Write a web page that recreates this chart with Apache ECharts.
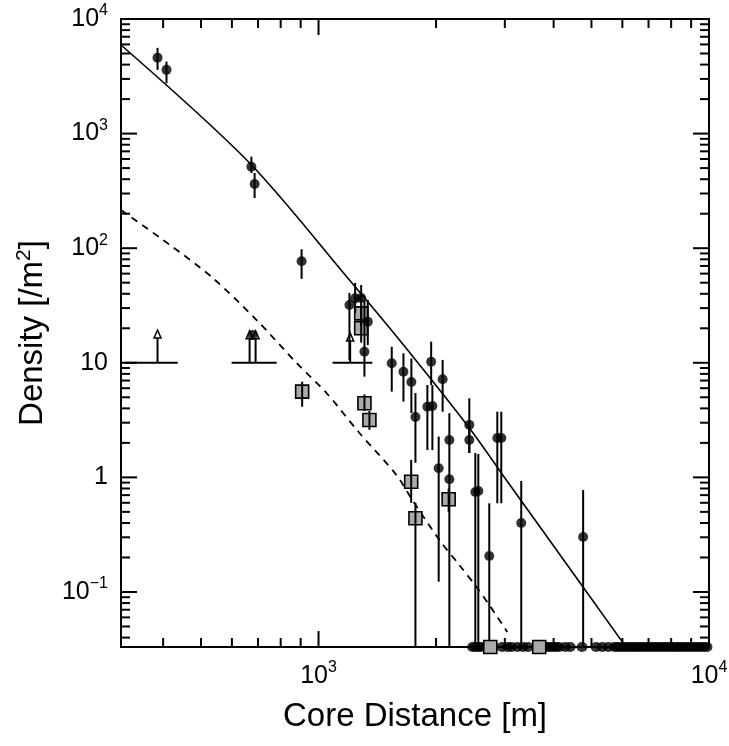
<!DOCTYPE html>
<html>
<head>
<meta charset="utf-8">
<script src="https://cdn.jsdelivr.net/npm/echarts@6/dist/echarts.min.js"></script>
<style>
  html, body { margin: 0; padding: 0; background: #fff; }
  #main { width: 729px; height: 746px; }
</style>
</head>
<body>
<div id="main"></div>
<script>
// axis ranges
const xMin = 312, xMax = 10000;
const yMin = 0.0331, yMax = 10000;

// fitted lateral distribution (solid line)
const fitX = [312, 666, 1200, 1612, 2433, 3026, 3740, 6133];
const fitY = [5930, 554, 52.8, 15.8, 2.70, 0.95, 0.348, 0.033];

// muon component (dashed line)
const muX = [312, 416, 536, 694, 879, 1048, 1273, 1583, 1739, 2040, 2294, 2536, 2737, 3044];
const muY = [215, 107, 55, 23.6, 9.96, 5.45, 2.44, 1.05, 0.635, 0.284, 0.172, 0.111, 0.077, 0.0448];

// detector densities, filled circles, with error range
const dotX  = [387, 408, 673, 686, 905, 678, 1200, 1241, 1286, 1337, 1311, 1540, 1650, 1729, 1771, 1943, 1900, 1957, 2079, 2031, 2163, 2163, 2433, 2433, 2521, 2566, 2870, 2938, 3305, 2737, 4761];
const dotY  = [4600, 3600, 514, 363, 77, 17.5, 31.9, 36.5, 36.8, 22.8, 12.5, 9.9, 8.36, 6.8, 3.37, 10.2, 4.14, 4.2, 7.18, 1.2, 2.12, 0.962, 2.87, 2.12, 0.746, 0.76, 2.21, 2.21, 0.40, 0.206, 0.302];
const dotLo = [3600, 2750, 453, 274, 54, 17.5, 10.6, 27.2, 23.6, 14.3, 7.57, 5.6, 4.58, 3.65, 1.34, 6.4, 1.73, 1.73, 3.74, 0.123, 0.0331, 0.962, 1.63, 1.63, 0.0331, 0.0331, 0.594, 0.594, 0.0331, 0.0331, 0.0331];
const dotHi = [5600, 4250, 629, 453, 98, 17.5, 40.6, 49.7, 47.7, 35.3, 35.3, 13.8, 12.1, 10.9, 5.45, 15.3, 6.4, 6.4, 10.6, 2.27, 3.63, 0.962, 4.9, 2.87, 1.63, 1.6, 3.74, 3.74, 0.93, 0.594, 0.776];

// muon detector densities, squares
const boxX  = [908, 1311, 1350, 1727, 1771, 2154, 1286, 1286];
const boxY  = [5.6, 4.43, 3.17, 0.917, 0.44, 0.644, 27, 20];
const boxLo = [4.14, 3.8, 2.6, 0.6, 0.0331, 0.5, 21, 15];
const boxHi = [6.84, 5.3, 3.8, 1.42, 0.6, 0.8, 32, 24];

// detectors with no particles, drawn on the bottom axis
const zeroX = [2480, 2520, 2570, 2610, 2690, 2950, 3050, 3120, 3230, 3340, 3440, 3850, 3920, 3990, 4060, 4130, 4280, 4410, 4730, 5140, 5330, 5520, 5720, 5820, 5920, 6030, 6130, 6250, 6360, 6470, 6580, 6700, 6820, 6940, 7070, 7190, 7320, 7450, 7580, 7720, 7860, 8000, 8140, 8290, 8430, 8580, 8730, 8890, 9050, 9210, 9370, 9540, 9710, 9880];
const zeroBoxX = [2754, 3675];

// saturated detectors: lower limits at 10 /m2
const satLevel = 10;
const satLo = [319, 599, 1086];
const satHi = [436, 781, 1374];
const arrowX = [387, 666, 690, 1205];
const arrowTop = [19.3, 19, 19, 18.2];

// tick values
const yMajor = [0.1, 1, 10, 100, 1000, 10000];
const yMinor = [0.04, 0.05, 0.06, 0.07, 0.08, 0.09, 0.2, 0.3, 0.4, 0.5, 0.6, 0.7, 0.8, 0.9,
  2, 3, 4, 5, 6, 7, 8, 9, 20, 30, 40, 50, 60, 70, 80, 90,
  200, 300, 400, 500, 600, 700, 800, 900, 2000, 3000, 4000, 5000, 6000, 7000, 8000, 9000];
const xMajor = [1000, 10000];
const xMinor = [400, 500, 600, 700, 800, 900, 2000, 3000, 4000, 5000, 6000, 7000, 8000, 9000];

const FONT = '"Liberation Sans", Arial, Helvetica, sans-serif';

function pairs(a, b) { return a.map((v, i) => [v, b[i]]); }

function powLabel(v) {
  const l = Math.log10(v);
  const e = Math.round(l);
  if (Math.abs(l - e) > 1e-6) return '';
  if (e === 0) return '{b|1}';
  if (e === 1) return '{b|10}';
  return '{b|10}{s|' + (e < 0 ? '\u2212' + (-e) : e) + '}';
}

const labelRich = {
  b: { fontSize: 25, fontFamily: FONT, color: '#000' },
  s: { fontSize: 16, fontFamily: FONT, color: '#000', padding: [0, 0, 16, 0] }
};

const nameRich = {
  a: { fontSize: 33, fontFamily: FONT, color: '#000' },
  s: { fontSize: 21, fontFamily: FONT, color: '#000', padding: [0, 0, 16, 0] }
};

// tick marks on all four sides (1 y major, 2 y minor, 3 x major, 4 x minor)
const tickData = []
  .concat(yMajor.map(v => [v, 1]))
  .concat(yMinor.map(v => [v, 2]))
  .concat(xMajor.map(v => [v, 3]))
  .concat(xMinor.map(v => [v, 4]));

function renderTick(params, api) {
  const cs = params.coordSys;
  const v = api.value(0), kind = api.value(1);
  const len = (kind === 1 || kind === 3) ? 16 : 9;
  const st = { stroke: '#000', lineWidth: 2 };
  if (kind <= 2) {
    const y = api.coord([1000, v])[1];
    return { type: 'group', children: [
      { type: 'line', shape: { x1: cs.x, y1: y, x2: cs.x + len, y2: y }, style: st },
      { type: 'line', shape: { x1: cs.x + cs.width - len, y1: y, x2: cs.x + cs.width, y2: y }, style: st }
    ] };
  }
  const x = api.coord([v, 1])[0];
  return { type: 'group', children: [
    { type: 'line', shape: { x1: x, y1: cs.y + cs.height, x2: x, y2: cs.y + cs.height - len }, style: st },
    { type: 'line', shape: { x1: x, y1: cs.y, x2: x, y2: cs.y + len }, style: st }
  ] };
}

function renderBar(params, api) {
  const x = api.value(0);
  const a = api.coord([x, api.value(1)]);
  const b = api.coord([x, api.value(2)]);
  return { type: 'line', shape: { x1: a[0], y1: a[1], x2: b[0], y2: b[1] },
    style: { stroke: '#000', lineWidth: 2 } };
}

function renderBox(params, api) {
  const p = api.coord([api.value(0), api.value(1)]);
  return { type: 'rect', shape: { x: p[0] - 6.5, y: p[1] - 6.5, width: 13, height: 13 },
    style: { fill: '#aaaaaa', stroke: '#000', lineWidth: 1.6 } };
}

function renderSat(params, api) {
  const a = api.coord([api.value(0), satLevel]);
  const b = api.coord([api.value(1), satLevel]);
  return { type: 'line', shape: { x1: a[0], y1: a[1], x2: b[0], y2: b[1] },
    style: { stroke: '#000', lineWidth: 2 } };
}

function renderArrow(params, api) {
  const base = api.coord([api.value(0), satLevel]);
  const tip = api.coord([api.value(0), api.value(1)]);
  return { type: 'group', children: [
    { type: 'line', shape: { x1: base[0], y1: base[1], x2: tip[0], y2: tip[1] + 4 },
      style: { stroke: '#000', lineWidth: 2 } },
    { type: 'polygon', shape: { points: [[tip[0] - 3.5, tip[1] + 8], [tip[0], tip[1]], [tip[0] + 3.5, tip[1] + 8]] },
      style: { fill: '#fff', stroke: '#000', lineWidth: 1.5 } }
  ] };
}

const chart = echarts.init(document.getElementById('main'));
chart.setOption({
  animation: false,
  backgroundColor: '#fff',
  grid: {
    left: 121, right: 20, top: 19, bottom: 99,
    show: true, borderColor: '#000', borderWidth: 2,
    outerBoundsMode: 'none'
  },
  xAxis: {
    type: 'log', logBase: 10, min: xMin, max: xMax,
    axisLine: { show: false }, axisTick: { show: false }, splitLine: { show: false },
    axisLabel: { formatter: powLabel, rich: labelRich, margin: 13, showMinLabel: false },
    name: 'Core Distance [m]', nameLocation: 'middle', nameGap: 53,
    nameTextStyle: { fontSize: 33, fontFamily: FONT, color: '#000' }
  },
  yAxis: {
    type: 'log', logBase: 10, min: yMin, max: yMax,
    axisLine: { show: false }, axisTick: { show: false }, splitLine: { show: false },
    axisLabel: { formatter: powLabel, rich: labelRich, margin: 13, showMinLabel: false },
    name: '{a|Density [/m}{s|2}{a|]}', nameLocation: 'middle', nameGap: 70,
    nameTextStyle: { fontFamily: FONT, color: '#000', rich: nameRich }
  },
  series: [
    {
      type: 'custom', name: 'ticks', data: tickData, renderItem: renderTick,
      clip: false, silent: true, z: 1
    },
    {
      type: 'line', name: 'fit', data: pairs(fitX, fitY), smooth: 0.3,
      showSymbol: false, clip: true, z: 2,
      lineStyle: { color: '#000', width: 1.6 }
    },
    {
      type: 'line', name: 'muon', data: pairs(muX, muY), smooth: 0.3,
      showSymbol: false, clip: true, z: 2,
      lineStyle: { color: '#000', width: 1.8, type: [7, 6] }
    },
    {
      type: 'custom', name: 'saturated', data: pairs(satLo, satHi), renderItem: renderSat,
      clip: false, z: 3
    },
    {
      type: 'custom', name: 'limits', data: pairs(arrowX, arrowTop), renderItem: renderArrow,
      clip: false, z: 3
    },
    {
      type: 'custom', name: 'boxes', data: pairs(boxX, boxY), renderItem: renderBox,
      clip: false, z: 3
    },
    {
      type: 'custom', name: 'zeroBoxes', data: zeroBoxX.map(v => [v, yMin]), renderItem: renderBox,
      clip: false, z: 5
    },
    {
      type: 'custom', name: 'boxBars', data: boxX.map((v, i) => [v, boxLo[i], boxHi[i]]),
      renderItem: renderBar, encode: { x: 0, y: [1, 2] }, clip: true, z: 4
    },
    {
      type: 'custom', name: 'dotBars', data: dotX.map((v, i) => [v, dotLo[i], dotHi[i]]),
      renderItem: renderBar, encode: { x: 0, y: [1, 2] }, clip: true, z: 4
    },
    {
      type: 'scatter', name: 'dots', data: pairs(dotX, dotY),
      symbol: 'circle', symbolSize: 10, z: 5,
      itemStyle: { color: '#000' }
    },
    {
      type: 'scatter', name: 'zero', data: zeroX.map(v => [v, yMin]),
      symbol: 'circle', symbolSize: [11, 10], clip: false, z: 4,
      itemStyle: { color: '#000' }
    }
  ]
});
</script>
</body>
</html>
